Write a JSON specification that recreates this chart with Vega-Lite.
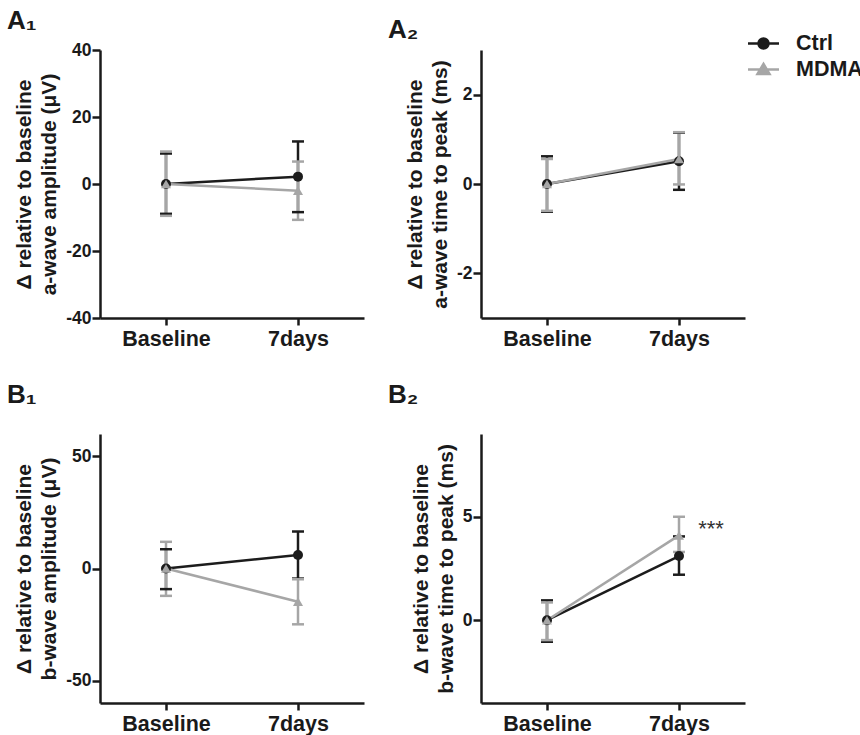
{
  "$schema": "https://vega.github.io/schema/vega-lite/v6.json",
  "padding": {"left": 7, "top": 8, "right": 0, "bottom": 0},
  "datasets": {
    "a1": [
      {"time": "Baseline", "group": "Ctrl", "mean": 0, "lo": -8.9, "hi": 9.1},
      {"time": "7days", "group": "Ctrl", "mean": 2.2, "lo": -8.4, "hi": 12.7},
      {"time": "Baseline", "group": "MDMA", "mean": 0, "lo": -9.5, "hi": 9.7},
      {"time": "7days", "group": "MDMA", "mean": -2, "lo": -10.7, "hi": 6.7}
    ],
    "a2": [
      {"time": "Baseline", "group": "Ctrl", "mean": 0, "lo": -0.62, "hi": 0.62},
      {"time": "7days", "group": "Ctrl", "mean": 0.51, "lo": -0.13, "hi": 1.15},
      {"time": "Baseline", "group": "MDMA", "mean": 0, "lo": -0.6, "hi": 0.56},
      {"time": "7days", "group": "MDMA", "mean": 0.56, "lo": -0.01, "hi": 1.16}
    ],
    "b1": [
      {"time": "Baseline", "group": "Ctrl", "mean": 0, "lo": -9.2, "hi": 8.6},
      {"time": "7days", "group": "Ctrl", "mean": 6, "lo": -4.5, "hi": 16.5},
      {"time": "Baseline", "group": "MDMA", "mean": 0, "lo": -12.2, "hi": 11.9},
      {"time": "7days", "group": "MDMA", "mean": -14.8, "lo": -24.9, "hi": -4.8}
    ],
    "b2": [
      {"time": "Baseline", "group": "Ctrl", "mean": 0, "lo": -1.04, "hi": 0.96},
      {"time": "7days", "group": "Ctrl", "mean": 3.1, "lo": 2.2, "hi": 4.05},
      {"time": "Baseline", "group": "MDMA", "mean": 0, "lo": -0.96, "hi": 0.86},
      {"time": "7days", "group": "MDMA", "mean": 4.1, "lo": 3.3, "hi": 5.0}
    ],
    "b2note": [
      {"time": "7days", "y": 4.4, "label": "***"}
    ]
  },
  "config": {
    "view": {"stroke": null},
    "font": "Liberation Sans",
    "axis": {
      "labelFont": "Liberation Sans", "labelFontWeight": "bold", "labelColor": "#1a1a1a",
      "titleFont": "Liberation Sans", "titleFontWeight": "bold", "titleFontSize": 21, "titleColor": "#1a1a1a",
      "titleLineHeight": 25,
      "domainColor": "#1a1a1a", "domainWidth": 2.5, "tickColor": "#1a1a1a", "tickWidth": 2.5, "tickSize": 8,
      "labelPadding": 2, "grid": false,
      "labelExpr": "replace(datum.label, '−', '-')"
    },
    "axisX": {"labelFontSize": 21.5, "labelPadding": 3, "tickSize": 7},
    "axisY": {"labelFontSize": 17.5, "titlePadding": 6, "labelPadding": 1},
    "title": {"font": "Liberation Sans", "fontWeight": "bold", "fontSize": 26, "color": "#1a1a1a", "anchor": "start", "frame": "group", "dx": -93},
    "legend": {
      "orient": "none", "legendX": 652, "legendY": -18, "padding": 0, "title": null,
      "labelFont": "Liberation Sans", "labelFontWeight": "bold", "labelFontSize": 21.5, "labelColor": "#1a1a1a",
      "symbolSize": 400, "labelOffset": 21, "rowPadding": 4
    }
  },
  "resolve": {"scale": {"color": "shared", "y": "independent", "x": "independent"}, "legend": {"color": "shared"}},
  "spacing": 32,
  "vconcat": [
    {
      "resolve": {"scale": {"color": "shared", "y": "independent", "x": "independent"}},
      "spacing": 24,
      "hconcat": [
        {
          "data": {"name": "a1"},
          "width": 264, "height": 268,
          "title": {"text": "A₁", "offset": 7},
          "encoding": {"x": {"field": "time", "type": "nominal", "sort": ["Baseline", "7days"], "scale": {"type": "point", "padding": 0.5}, "axis": {"title": null, "labelAngle": 0}}},
          "layer": [
            {"mark": {"type": "rule", "strokeWidth": 2.5}, "encoding": {
              "y": {"field": "lo", "type": "quantitative", "scale": {"domain": [-40, 40], "nice": false}, "axis": {"values": [-40, -20, 0, 20, 40]}, "title": ["Δ relative to baseline", "a-wave amplitude (μV)"]},
              "y2": {"field": "hi"},
              "color": {"field": "group", "type": "nominal", "scale": {"domain": ["Ctrl", "MDMA"], "range": ["#1c1c1c", "#a6a6a6"]}, "legend": {"encode": {"symbols": {"update": {
                "shape": {"signal": "datum.value === 'Ctrl' ? 'M-1.55,0L1.55,0M0.5,0A0.5,0.5,0,1,1,-0.5,0A0.5,0.5,0,1,1,0.5,0Z' : 'M-1.55,0L1.55,0M0,-0.55L0.6,0.45L-0.6,0.45Z'"},
                "fill": {"signal": "datum.value === 'Ctrl' ? '#1c1c1c' : '#a6a6a6'"},
                "stroke": {"signal": "datum.value === 'Ctrl' ? '#1c1c1c' : '#a6a6a6'"},
                "strokeWidth": {"value": 2.5}, "size": {"value": 400}, "opacity": {"value": 1}, "fillOpacity": {"value": 1}, "strokeOpacity": {"value": 1}}}}}}
            }},
            {"mark": {"type": "tick", "thickness": 2.5, "size": 12, "opacity": 1}, "encoding": {
              "y": {"field": "lo", "type": "quantitative", "title": ["Δ relative to baseline", "a-wave amplitude (μV)"]},
              "color": {"field": "group", "type": "nominal", "legend": null}
            }},
            {"mark": {"type": "tick", "thickness": 2.5, "size": 12, "opacity": 1}, "encoding": {
              "y": {"field": "hi", "type": "quantitative", "title": ["Δ relative to baseline", "a-wave amplitude (μV)"]},
              "color": {"field": "group", "type": "nominal", "legend": null}
            }},
            {"mark": {"type": "line", "strokeWidth": 2.5}, "encoding": {
              "y": {"field": "mean", "type": "quantitative", "title": ["Δ relative to baseline", "a-wave amplitude (μV)"]},
              "color": {"field": "group", "type": "nominal", "legend": null}
            }},
            {"transform": [{"filter": "datum.group === 'Ctrl'"}], "mark": {"type": "point", "filled": true, "opacity": 1, "size": 100, "shape": "circle"}, "encoding": {
              "y": {"field": "mean", "type": "quantitative", "title": ["Δ relative to baseline", "a-wave amplitude (μV)"]},
              "color": {"field": "group", "type": "nominal", "legend": null}
            }},
            {"transform": [{"filter": "datum.group === 'MDMA'"}], "mark": {"type": "point", "filled": true, "opacity": 1, "size": 100, "shape": "triangle-up"}, "encoding": {
              "y": {"field": "mean", "type": "quantitative", "title": ["Δ relative to baseline", "a-wave amplitude (μV)"]},
              "color": {"field": "group", "type": "nominal", "legend": null}
            }}
          ]
        },
        {
          "data": {"name": "a2"},
          "width": 264, "height": 268,
          "title": {"text": "A₂", "offset": 7},
          "encoding": {"x": {"field": "time", "type": "nominal", "sort": ["Baseline", "7days"], "scale": {"type": "point", "padding": 0.5}, "axis": {"title": null, "labelAngle": 0}}},
          "layer": [
            {"mark": {"type": "rule", "strokeWidth": 2.5}, "encoding": {
              "y": {"field": "lo", "type": "quantitative", "scale": {"domain": [-3, 3], "nice": false}, "axis": {"values": [-2, 0, 2]}, "title": ["Δ relative to baseline", "a-wave time to peak (ms)"]},
              "y2": {"field": "hi"},
              "color": {"field": "group", "type": "nominal", "scale": {"domain": ["Ctrl", "MDMA"], "range": ["#1c1c1c", "#a6a6a6"]}, "legend": {"encode": {"symbols": {"update": {
                "shape": {"signal": "datum.value === 'Ctrl' ? 'M-1.55,0L1.55,0M0.5,0A0.5,0.5,0,1,1,-0.5,0A0.5,0.5,0,1,1,0.5,0Z' : 'M-1.55,0L1.55,0M0,-0.55L0.6,0.45L-0.6,0.45Z'"},
                "fill": {"signal": "datum.value === 'Ctrl' ? '#1c1c1c' : '#a6a6a6'"},
                "stroke": {"signal": "datum.value === 'Ctrl' ? '#1c1c1c' : '#a6a6a6'"},
                "strokeWidth": {"value": 2.5}, "size": {"value": 400}, "opacity": {"value": 1}, "fillOpacity": {"value": 1}, "strokeOpacity": {"value": 1}}}}}}
            }},
            {"mark": {"type": "tick", "thickness": 2.5, "size": 12, "opacity": 1}, "encoding": {
              "y": {"field": "lo", "type": "quantitative", "title": ["Δ relative to baseline", "a-wave time to peak (ms)"]},
              "color": {"field": "group", "type": "nominal", "legend": null}
            }},
            {"mark": {"type": "tick", "thickness": 2.5, "size": 12, "opacity": 1}, "encoding": {
              "y": {"field": "hi", "type": "quantitative", "title": ["Δ relative to baseline", "a-wave time to peak (ms)"]},
              "color": {"field": "group", "type": "nominal", "legend": null}
            }},
            {"mark": {"type": "line", "strokeWidth": 2.5}, "encoding": {
              "y": {"field": "mean", "type": "quantitative", "title": ["Δ relative to baseline", "a-wave time to peak (ms)"]},
              "color": {"field": "group", "type": "nominal", "legend": null}
            }},
            {"transform": [{"filter": "datum.group === 'Ctrl'"}], "mark": {"type": "point", "filled": true, "opacity": 1, "size": 100, "shape": "circle"}, "encoding": {
              "y": {"field": "mean", "type": "quantitative", "title": ["Δ relative to baseline", "a-wave time to peak (ms)"]},
              "color": {"field": "group", "type": "nominal", "legend": null}
            }},
            {"transform": [{"filter": "datum.group === 'MDMA'"}], "mark": {"type": "point", "filled": true, "opacity": 1, "size": 100, "shape": "triangle-up"}, "encoding": {
              "y": {"field": "mean", "type": "quantitative", "title": ["Δ relative to baseline", "a-wave time to peak (ms)"]},
              "color": {"field": "group", "type": "nominal", "legend": null}
            }}
          ]
        }
      ]
    },
    {
      "resolve": {"scale": {"color": "shared", "y": "independent", "x": "independent"}},
      "spacing": 24,
      "hconcat": [
        {
          "data": {"name": "b1"},
          "width": 264, "height": 269,
          "title": {"text": "B₁", "offset": 26},
          "encoding": {"x": {"field": "time", "type": "nominal", "sort": ["Baseline", "7days"], "scale": {"type": "point", "padding": 0.5}, "axis": {"title": null, "labelAngle": 0}}},
          "layer": [
            {"mark": {"type": "rule", "strokeWidth": 2.5}, "encoding": {
              "y": {"field": "lo", "type": "quantitative", "scale": {"domain": [-60, 60], "nice": false}, "axis": {"values": [-50, 0, 50]}, "title": ["Δ relative to baseline", "b-wave amplitude (μV)"]},
              "y2": {"field": "hi"},
              "color": {"field": "group", "type": "nominal", "scale": {"domain": ["Ctrl", "MDMA"], "range": ["#1c1c1c", "#a6a6a6"]}, "legend": {"encode": {"symbols": {"update": {
                "shape": {"signal": "datum.value === 'Ctrl' ? 'M-1.55,0L1.55,0M0.5,0A0.5,0.5,0,1,1,-0.5,0A0.5,0.5,0,1,1,0.5,0Z' : 'M-1.55,0L1.55,0M0,-0.55L0.6,0.45L-0.6,0.45Z'"},
                "fill": {"signal": "datum.value === 'Ctrl' ? '#1c1c1c' : '#a6a6a6'"},
                "stroke": {"signal": "datum.value === 'Ctrl' ? '#1c1c1c' : '#a6a6a6'"},
                "strokeWidth": {"value": 2.5}, "size": {"value": 400}, "opacity": {"value": 1}, "fillOpacity": {"value": 1}, "strokeOpacity": {"value": 1}}}}}}
            }},
            {"mark": {"type": "tick", "thickness": 2.5, "size": 12, "opacity": 1}, "encoding": {
              "y": {"field": "lo", "type": "quantitative", "title": ["Δ relative to baseline", "b-wave amplitude (μV)"]},
              "color": {"field": "group", "type": "nominal", "legend": null}
            }},
            {"mark": {"type": "tick", "thickness": 2.5, "size": 12, "opacity": 1}, "encoding": {
              "y": {"field": "hi", "type": "quantitative", "title": ["Δ relative to baseline", "b-wave amplitude (μV)"]},
              "color": {"field": "group", "type": "nominal", "legend": null}
            }},
            {"mark": {"type": "line", "strokeWidth": 2.5}, "encoding": {
              "y": {"field": "mean", "type": "quantitative", "title": ["Δ relative to baseline", "b-wave amplitude (μV)"]},
              "color": {"field": "group", "type": "nominal", "legend": null}
            }},
            {"transform": [{"filter": "datum.group === 'Ctrl'"}], "mark": {"type": "point", "filled": true, "opacity": 1, "size": 100, "shape": "circle"}, "encoding": {
              "y": {"field": "mean", "type": "quantitative", "title": ["Δ relative to baseline", "b-wave amplitude (μV)"]},
              "color": {"field": "group", "type": "nominal", "legend": null}
            }},
            {"transform": [{"filter": "datum.group === 'MDMA'"}], "mark": {"type": "point", "filled": true, "opacity": 1, "size": 100, "shape": "triangle-up"}, "encoding": {
              "y": {"field": "mean", "type": "quantitative", "title": ["Δ relative to baseline", "b-wave amplitude (μV)"]},
              "color": {"field": "group", "type": "nominal", "legend": null}
            }}
          ]
        },
        {
          "width": 264, "height": 269,
          "title": {"text": "B₂", "offset": 26},
          "encoding": {"x": {"field": "time", "type": "nominal", "sort": ["Baseline", "7days"], "scale": {"type": "point", "padding": 0.5, "domain": ["Baseline", "7days"]}, "axis": {"title": null, "labelAngle": 0}}},
          "layer": [
            {"data": {"name": "b2"}, "mark": {"type": "rule", "strokeWidth": 2.5}, "encoding": {
              "y": {"field": "lo", "type": "quantitative", "scale": {"domain": [-4, 9], "nice": false}, "axis": {"values": [0, 5]}, "title": ["Δ relative to baseline", "b-wave time to peak (ms)"]},
              "y2": {"field": "hi"},
              "color": {"field": "group", "type": "nominal", "scale": {"domain": ["Ctrl", "MDMA"], "range": ["#1c1c1c", "#a6a6a6"]}, "legend": {"encode": {"symbols": {"update": {
                "shape": {"signal": "datum.value === 'Ctrl' ? 'M-1.55,0L1.55,0M0.5,0A0.5,0.5,0,1,1,-0.5,0A0.5,0.5,0,1,1,0.5,0Z' : 'M-1.55,0L1.55,0M0,-0.55L0.6,0.45L-0.6,0.45Z'"},
                "fill": {"signal": "datum.value === 'Ctrl' ? '#1c1c1c' : '#a6a6a6'"},
                "stroke": {"signal": "datum.value === 'Ctrl' ? '#1c1c1c' : '#a6a6a6'"},
                "strokeWidth": {"value": 2.5}, "size": {"value": 400}, "opacity": {"value": 1}, "fillOpacity": {"value": 1}, "strokeOpacity": {"value": 1}}}}}}
            }},
            {"data": {"name": "b2"}, "mark": {"type": "tick", "thickness": 2.5, "size": 12, "opacity": 1}, "encoding": {
              "y": {"field": "lo", "type": "quantitative", "title": ["Δ relative to baseline", "b-wave time to peak (ms)"]},
              "color": {"field": "group", "type": "nominal", "legend": null}
            }},
            {"data": {"name": "b2"}, "mark": {"type": "tick", "thickness": 2.5, "size": 12, "opacity": 1}, "encoding": {
              "y": {"field": "hi", "type": "quantitative", "title": ["Δ relative to baseline", "b-wave time to peak (ms)"]},
              "color": {"field": "group", "type": "nominal", "legend": null}
            }},
            {"data": {"name": "b2"}, "mark": {"type": "line", "strokeWidth": 2.5}, "encoding": {
              "y": {"field": "mean", "type": "quantitative", "title": ["Δ relative to baseline", "b-wave time to peak (ms)"]},
              "color": {"field": "group", "type": "nominal", "legend": null}
            }},
            {"data": {"name": "b2"}, "transform": [{"filter": "datum.group === 'Ctrl'"}], "mark": {"type": "point", "filled": true, "opacity": 1, "size": 100, "shape": "circle"}, "encoding": {
              "y": {"field": "mean", "type": "quantitative", "title": ["Δ relative to baseline", "b-wave time to peak (ms)"]},
              "color": {"field": "group", "type": "nominal", "legend": null}
            }},
            {"data": {"name": "b2"}, "transform": [{"filter": "datum.group === 'MDMA'"}], "mark": {"type": "point", "filled": true, "opacity": 1, "size": 100, "shape": "triangle-up"}, "encoding": {
              "y": {"field": "mean", "type": "quantitative", "title": ["Δ relative to baseline", "b-wave time to peak (ms)"]},
              "color": {"field": "group", "type": "nominal", "legend": null}
            }},
            {"data": {"name": "b2note"}, "mark": {"type": "text", "fontSize": 22, "color": "#333333", "dx": 32, "baseline": "middle", "font": "Liberation Sans"}, "encoding": {
              "y": {"field": "y", "type": "quantitative", "title": ["Δ relative to baseline", "b-wave time to peak (ms)"]},
              "text": {"field": "label"}
            }}
          ]
        }
      ]
    }
  ]
}
